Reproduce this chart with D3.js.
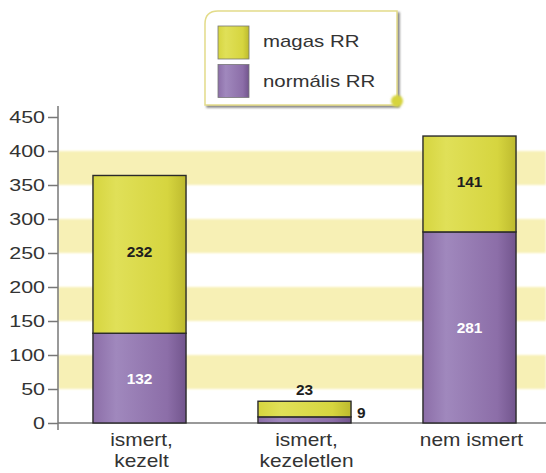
<!DOCTYPE html>
<html>
<head>
<meta charset="utf-8">
<script src="https://cdn.jsdelivr.net/npm/d3@7"></script>
<style>
  html, body { margin: 0; padding: 0; background: #ffffff; }
  svg { display: block; font-family: "Liberation Sans", Arial, sans-serif; }
</style>
</head>
<body>
<svg id="chart" width="546" height="473"></svg>
<script>
// Stacked counts per group
const categories = [["ismert,", "kezelt"], ["ismert,", "kezeletlen"], ["nem ismert"]];
const categoryKeys = ["ismert, kezelt", "ismert, kezeletlen", "nem ismert"];
const normalisRR = [132, 9, 281];
const magasRR = [232, 23, 141];
const seriesNames = ["magas RR", "normális RR"];
const yTicks = [0, 50, 100, 150, 200, 250, 300, 350, 400, 450];
const stripeRanges = [[50, 100], [150, 200], [250, 300], [350, 400]];

const FONT = "'Liberation Sans', Arial, sans-serif";
const svg = d3.select("#chart");
const W = 546, H = 473;

// Widen glyphs horizontally (the typeface used here is set wide)
function widen(sel, sx) {
  sel.each(function () {
    const len = this.getComputedTextLength();
    this.setAttribute("textLength", (len * sx).toFixed(2));
    this.setAttribute("lengthAdjust", "spacingAndGlyphs");
  });
}

const y = d3.scaleLinear().domain([0, 450]).range([423, 117]);
const x = d3.scaleBand().domain(categoryKeys).range([57, 552])
  .paddingInner(0.436).paddingOuter(0.218);

const defs = svg.append("defs");
function barGradient(id, light, mid, dark) {
  const g = defs.append("linearGradient").attr("id", id)
    .attr("x1", "0").attr("x2", "1").attr("y1", "0").attr("y2", "0");
  g.append("stop").attr("offset", "0%").attr("stop-color", mid);
  g.append("stop").attr("offset", "25%").attr("stop-color", light);
  g.append("stop").attr("offset", "80%").attr("stop-color", mid);
  g.append("stop").attr("offset", "100%").attr("stop-color", dark);
}
barGradient("gYellow", "#e0e058", "#d6d53f", "#bdba2e");
barGradient("gPurple", "#a088bd", "#8c6ea8", "#72558d");
defs.append("filter").attr("id", "soft").append("feGaussianBlur").attr("stdDeviation", 1.2);
const sh = defs.append("filter").attr("id", "shadow").attr("x", "-10%").attr("y", "-10%")
  .attr("width", "130%").attr("height", "130%");
sh.append("feDropShadow").attr("dx", 2).attr("dy", 2).attr("stdDeviation", 1)
  .attr("flood-color", "#666").attr("flood-opacity", 0.8);

// Background stripes
svg.append("g").selectAll("rect").data(stripeRanges).join("rect")
  .attr("x", 58).attr("width", W - 58)
  .attr("y", d => y(d[1])).attr("height", d => y(d[0]) - y(d[1]))
  .attr("fill", "#f6eea9").attr("opacity", 0.85)
  .attr("filter", "url(#soft)");

// Axes
const yAxis = svg.append("g").attr("transform", "translate(58,0)")
  .call(d3.axisLeft(y).tickValues(yTicks).tickSize(10).tickPadding(3));
yAxis.select(".domain").remove();
yAxis.selectAll(".tick line").attr("stroke", "#777").attr("stroke-width", 1.5);
yAxis.selectAll(".tick text").attr("font-size", 16.5).attr("fill", "#333")
  .attr("font-family", FONT).call(widen, 1.3);
svg.append("line").attr("x1", 58).attr("x2", 58).attr("y1", 106).attr("y2", y(0) + 7)
  .attr("stroke", "#777").attr("stroke-width", 1.5);
svg.append("line").attr("x1", 58).attr("x2", W).attr("y1", y(0)).attr("y2", y(0))
  .attr("stroke", "#777").attr("stroke-width", 1.5);

// Bars
const stackData = categoryKeys.map((k, i) => ({ key: k, normal: normalisRR[i], high: magasRR[i] }));
const bars = svg.append("g");
stackData.forEach(d => {
  const bx = x(d.key), bw = x.bandwidth();
  bars.append("rect").attr("x", bx).attr("width", bw)
    .attr("y", y(d.normal)).attr("height", y(0) - y(d.normal))
    .attr("fill", "url(#gPurple)").attr("stroke", "#2a2a2a").attr("stroke-width", 1.4);
  bars.append("rect").attr("x", bx).attr("width", bw)
    .attr("y", y(d.normal + d.high)).attr("height", y(d.normal) - y(d.normal + d.high))
    .attr("fill", "url(#gYellow)").attr("stroke", "#2a2a2a").attr("stroke-width", 1.4);
});

// Value labels
const lab = svg.append("g").attr("font-weight", "bold").attr("font-size", 14)
  .attr("font-family", FONT).attr("text-anchor", "middle");
stackData.forEach(d => {
  const cx = x(d.key) + x.bandwidth() / 2;
  const hTop = y(d.normal) - y(d.normal + d.high);
  if (hTop > 20) {
    lab.append("text").attr("x", cx).attr("y", (y(d.normal) + y(d.normal + d.high)) / 2 + 3)
      .attr("fill", "#1e1e1e").text(d.high);
  } else {
    lab.append("text").attr("x", cx).attr("y", y(d.normal + d.high) - 6)
      .attr("fill", "#1e1e1e").text(d.high);
  }
  const hBot = y(0) - y(d.normal);
  if (hBot > 20) {
    lab.append("text").attr("x", cx).attr("y", (y(0) + y(d.normal)) / 2 + 6)
      .attr("fill", "#ffffff").text(d.normal);
  } else {
    lab.append("text").attr("x", x(d.key) + x.bandwidth() + 6).attr("y", y(0) - 5)
      .attr("text-anchor", "start").attr("fill", "#1e1e1e").text(d.normal);
  }
});
lab.selectAll("text").call(widen, 1.1);

// Category labels
const cat = svg.append("g").attr("font-size", 19).attr("fill", "#333").attr("text-anchor", "middle");
categoryKeys.forEach((k, i) => {
  const cx = x(k) + x.bandwidth() / 2 + 2;
  categories[i].forEach((line, j) => {
    cat.append("text").attr("x", cx).attr("y", 446 + j * 21).text(line);
  });
});
cat.selectAll("text").call(widen, 1.1);

// Legend
const lg = svg.append("g");
lg.append("path")
  .attr("d", "M205,105 L205,24 Q205,11 218,11 L397,11 L397,105 Z")
  .attr("fill", "#ffffff").attr("stroke", "#e3dc8a").attr("stroke-width", 1.5)
  .attr("filter", "url(#shadow)");
lg.append("circle").attr("cx", 397).attr("cy", 101).attr("r", 6).attr("fill", "#d6d43e")
  .attr("filter", "url(#soft)");
const swatchFill = ["url(#gYellow)", "url(#gPurple)"];
seriesNames.forEach((n, i) => {
  lg.append("rect").attr("x", 218).attr("y", 26 + i * 38.5).attr("width", 31).attr("height", 33)
    .attr("fill", swatchFill[i]).attr("stroke", "#777").attr("stroke-width", 0.8);
  lg.append("text").attr("x", 263).attr("y", 47 + i * 40).attr("font-size", 17)
    .attr("fill", "#333").text(n);
});
lg.selectAll("text").call(widen, 1.2);
</script>
</body>
</html>
